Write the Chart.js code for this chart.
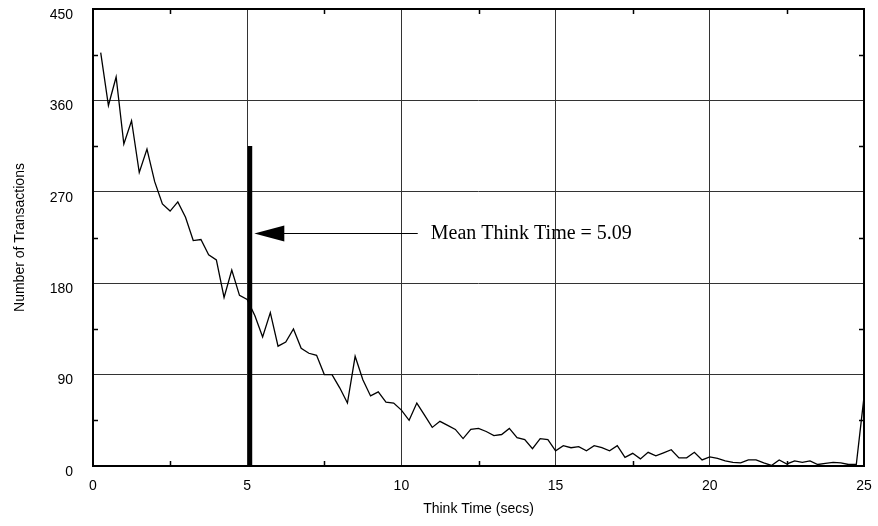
<!DOCTYPE html>
<html>
<head>
<meta charset="utf-8">
<script src="https://cdn.jsdelivr.net/npm/chart.js@4/dist/chart.umd.min.js"></script>
<style>
  html, body { margin: 0; padding: 0; background: #fff; }
  #wrap { width: 878px; height: 526px; }
</style>
</head>
<body>
<div id="wrap"><canvas id="thinkChart"></canvas></div>
<script>
// think time buckets (secs)
const thinkTimes = [
    0.25, 0.5, 0.75, 1, 1.25, 1.5, 1.75, 2, 2.25, 2.5,
    2.75, 3, 3.25, 3.5, 3.75, 4, 4.25, 4.5, 4.75, 5,
    5.25, 5.5, 5.75, 6, 6.25, 6.5, 6.75, 7, 7.25, 7.5,
    7.75, 8, 8.25, 8.5, 8.75, 9, 9.25, 9.5, 9.75, 10,
    10.25, 10.5, 10.75, 11, 11.25, 11.5, 11.75, 12, 12.25, 12.5,
    12.75, 13, 13.25, 13.5, 13.75, 14, 14.25, 14.5, 14.75, 15,
    15.25, 15.5, 15.75, 16, 16.25, 16.5, 16.75, 17, 17.25, 17.5,
    17.75, 18, 18.25, 18.5, 18.75, 19, 19.25, 19.5, 19.75, 20,
    20.25, 20.5, 20.75, 21, 21.25, 21.5, 21.75, 22, 22.25, 22.5,
    22.75, 23, 23.25, 23.5, 23.75, 24, 24.25, 24.5, 24.75, 25
];

const transactions = [
    407, 355, 383, 317, 340, 289, 312, 280, 258, 251,
    260, 245, 222, 223, 208, 203, 166, 193, 168, 164,
    148, 127, 151, 118, 122, 135, 116, 111, 109, 90,
    90, 77, 62, 108, 85, 69, 73, 63, 62, 55,
    45, 62, 50, 38, 44, 40, 36, 27, 36, 37,
    34, 30, 31, 37, 28, 26, 17, 27, 26, 15,
    20, 18, 19, 15, 20, 18, 15, 20, 8.5, 12.5,
    7, 13.5, 10, 13, 16, 8, 8, 13.5, 6, 9,
    7.5, 5, 3.5, 3, 6, 6, 3, 0.5, 6, 2,
    5, 3.5, 5, 1.5, 2.5, 3.5, 3, 1.5, 1.5, 68
];

const xTickLabels = [0, 5, 10, 15, 20, 25];
const yTickLabels = [0, 90, 180, 270, 360, 450];

const meanThinkTime = 5.09;
const meanBarTop = 315;
const meanLabel = 'Mean Think Time = 5.09';
const arrowTail = 10.53;
const arrowTip = 5.23;
const arrowLevel = 229;

Chart.defaults.font.family = '"Liberation Sans", Arial, sans-serif';
Chart.defaults.font.size = 14;
Chart.defaults.color = '#000';

// frame, inward minor ticks, arrow and label
const decorations = {
    id: 'decorations',
    afterDatasetsDraw(chart) {
        const { ctx, chartArea: a, scales: { x, y } } = chart;
        ctx.save();
        ctx.strokeStyle = '#000';
        ctx.lineWidth = 1.5;
        ctx.beginPath();
        x.ticks.forEach(t => {
            if (xTickLabels.includes(t.value)) return;
            const px = Math.round(x.getPixelForValue(t.value)) + 0.5;
            ctx.moveTo(px, a.bottom); ctx.lineTo(px, a.bottom - 5);
            ctx.moveTo(px, a.top); ctx.lineTo(px, a.top + 5);
        });
        y.ticks.forEach(t => {
            if (yTickLabels.includes(t.value)) return;
            const py = Math.round(y.getPixelForValue(t.value)) + 0.5;
            ctx.moveTo(a.left, py); ctx.lineTo(a.left + 5, py);
            ctx.moveTo(a.right, py); ctx.lineTo(a.right - 5, py);
        });
        ctx.stroke();

        ctx.lineWidth = 2;
        ctx.strokeRect(a.left, a.top, a.right - a.left, a.bottom - a.top);

        // arrow pointing at the mean bar
        const tailX = x.getPixelForValue(arrowTail);
        const tipX = x.getPixelForValue(arrowTip);
        const ay = Math.round(y.getPixelForValue(arrowLevel)) + 0.5;
        ctx.lineWidth = 1;
        ctx.beginPath();
        ctx.moveTo(tailX, ay);
        ctx.lineTo(tipX + 28, ay);
        ctx.stroke();
        ctx.fillStyle = '#000';
        ctx.beginPath();
        ctx.moveTo(tipX, ay);
        ctx.lineTo(tipX + 30, ay - 8);
        ctx.lineTo(tipX + 30, ay + 8);
        ctx.closePath();
        ctx.fill();

        ctx.font = '20px "Liberation Serif", "Times New Roman", serif';
        ctx.textBaseline = 'middle';
        ctx.textAlign = 'left';
        ctx.fillText(meanLabel, tailX + 13, ay);
        ctx.restore();
    }
};

new Chart(document.getElementById('thinkChart'), {
    type: 'line',
    data: {
        datasets: [{
            label: 'Transactions',
            data: thinkTimes.map((t, i) => ({ x: t, y: transactions[i] })),
            borderColor: '#000',
            borderWidth: 1.3,
            pointRadius: 0,
            tension: 0,
            fill: false
        }, {
            label: 'Mean',
            data: [{ x: meanThinkTime, y: 0 }, { x: meanThinkTime, y: meanBarTop }],
            borderColor: '#000',
            borderWidth: 4.5,
            borderCapStyle: 'butt',
            pointRadius: 0,
            fill: false
        }]
    },
    options: {
        responsive: true,
        maintainAspectRatio: false,
        animation: false,
        layout: {
            padding: { top: 9, right: 14, left: 0, bottom: 0 }
        },
        plugins: {
            legend: { display: false },
            tooltip: { enabled: false }
        },
        scales: {
            x: {
                type: 'linear',
                min: 0,
                max: 25,
                afterFit: s => {
                    s.height = 60;
                    s.paddingLeft = 0;
                    s.paddingRight = 0;
                },
                afterBuildTicks: s => {
                    const ticks = [];
                    for (let v = 0; v <= 25; v += 2.5) ticks.push({ value: v });
                    s.ticks = ticks;
                },
                ticks: {
                    padding: 12,
                    maxRotation: 0,
                    autoSkip: false,
                    callback: v => xTickLabels.includes(v) ? String(v) : ''
                },
                grid: {
                    drawTicks: false,
                    lineWidth: 1,
                    color: c => (c.tick && xTickLabels.includes(c.tick.value)) ? '#333' : 'rgba(0,0,0,0)'
                },
                border: { display: false },
                title: {
                    display: true,
                    text: 'Think Time (secs)',
                    font: { size: 14 },
                    padding: { top: 0, bottom: 8 }
                }
            },
            y: {
                min: 0,
                max: 450,
                afterFit: s => {
                    s.width = 93;
                    s.paddingTop = 0;
                    s.paddingBottom = 0;
                },
                afterBuildTicks: s => {
                    const ticks = [];
                    for (let v = 0; v <= 450; v += 45) ticks.push({ value: v });
                    s.ticks = ticks;
                },
                ticks: {
                    padding: 20,
                    labelOffset: 6,
                    autoSkip: false,
                    callback: v => yTickLabels.includes(v) ? String(v) : ''
                },
                grid: {
                    drawTicks: false,
                    lineWidth: 1,
                    color: c => (c.tick && yTickLabels.includes(c.tick.value)) ? '#333' : 'rgba(0,0,0,0)'
                },
                border: { display: false },
                title: {
                    display: true,
                    text: 'Number of Transactions',
                    font: { size: 14 },
                    padding: { top: 12, bottom: 0 }
                }
            }
        }
    },
    plugins: [decorations]
});
</script>
</body>
</html>
